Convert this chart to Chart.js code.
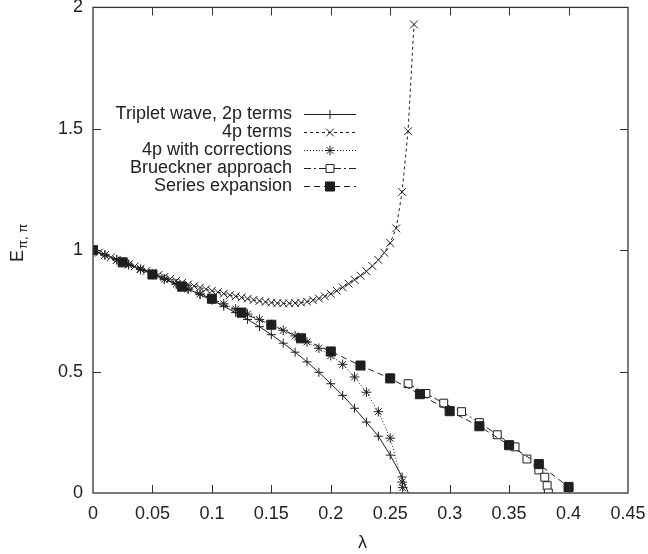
<!DOCTYPE html>
<html>
<head>
<meta charset="utf-8">
<script src="https://cdn.jsdelivr.net/npm/chart.js@4.4.1/dist/chart.umd.min.js"></script>
<style>
  html, body { margin: 0; padding: 0; background: #fff; }
  #wrap { width: 648px; height: 554px; }
</style>
</head>
<body>
<div id="wrap"><canvas id="chart" width="648" height="554"></canvas></div>
<script>
// axis ticks
var xTicks = [0, 0.05, 0.1, 0.15, 0.2, 0.25, 0.3, 0.35, 0.4, 0.45];
var xTickLabels = ['0', '0.05', '0.1', '0.15', '0.2', '0.25', '0.3', '0.35', '0.4', '0.45'];
var yTicks = [0, 0.5, 1, 1.5, 2];
var yTickLabels = ['0', '0.5', '1', '1.5', '2'];

// Triplet wave, 2p terms
var tripletLambda = [0, 0.01, 0.02, 0.03, 0.04, 0.05, 0.06, 0.07, 0.08, 0.09, 0.1, 0.11, 0.12, 0.13,
  0.14, 0.15, 0.16, 0.17, 0.18, 0.19, 0.2, 0.21, 0.22, 0.23, 0.24, 0.25, 0.26, 0.27];
var tripletE = [1.0, 0.981, 0.962, 0.943, 0.923, 0.903, 0.883, 0.862, 0.84, 0.817, 0.794, 0.769, 0.743, 0.715,
  0.685, 0.652, 0.617, 0.58, 0.54, 0.497, 0.45, 0.402, 0.349, 0.292, 0.234, 0.156, 0.066, -0.06];

// 4p terms
var fourPLambda = [0, 0.005, 0.01, 0.015, 0.02, 0.025, 0.03, 0.035, 0.04, 0.045, 0.05, 0.055, 0.06, 0.065,
  0.07, 0.075, 0.08, 0.085, 0.09, 0.095, 0.1, 0.105, 0.11, 0.115, 0.12, 0.125, 0.13, 0.135, 0.14, 0.145,
  0.15, 0.155, 0.16, 0.165, 0.17, 0.175, 0.18, 0.185, 0.19, 0.195, 0.2, 0.205, 0.21, 0.215, 0.22, 0.225,
  0.23, 0.235, 0.24, 0.245, 0.25, 0.255, 0.26, 0.265, 0.27];
var fourPE = [1.0, 0.99, 0.98, 0.97, 0.96, 0.951, 0.942, 0.933, 0.924, 0.915, 0.906, 0.898, 0.89, 0.882,
  0.874, 0.866, 0.859, 0.852, 0.846, 0.839, 0.833, 0.827, 0.821, 0.815, 0.81, 0.805, 0.8, 0.795, 0.791, 0.787,
  0.784, 0.782, 0.781, 0.781, 0.782, 0.784, 0.788, 0.794, 0.801, 0.81, 0.82, 0.833, 0.847, 0.862, 0.878, 0.895,
  0.913, 0.935, 0.96, 0.99, 1.03, 1.09, 1.24, 1.49, 1.93];

// 4p with corrections
var corrLambda = [0, 0.01, 0.02, 0.03, 0.04, 0.05, 0.06, 0.07, 0.08, 0.09, 0.1, 0.11, 0.12, 0.13,
  0.14, 0.15, 0.16, 0.17, 0.18, 0.19, 0.2, 0.21, 0.22, 0.23, 0.24, 0.25, 0.26, 0.2605, 0.263];
var corrE = [1.0, 0.98, 0.96, 0.94, 0.92, 0.9, 0.88, 0.86, 0.84, 0.82, 0.8, 0.779, 0.758, 0.737,
  0.715, 0.693, 0.67, 0.647, 0.622, 0.596, 0.566, 0.53, 0.478, 0.415, 0.335, 0.226, 0.045, 0.022, -0.05];

// Brueckner approach
var bruecknerLambda = [0.265, 0.28, 0.295, 0.31, 0.325, 0.34, 0.355, 0.365, 0.375, 0.38, 0.382, 0.383];
var bruecknerE = [0.45, 0.41, 0.37, 0.335, 0.29, 0.24, 0.19, 0.14, 0.095, 0.065, 0.03, 0.0];

// Series expansion
var seriesLambda = [0, 0.025, 0.05, 0.075, 0.1, 0.125, 0.15, 0.175, 0.2, 0.225, 0.25, 0.275, 0.3, 0.325,
  0.35, 0.375, 0.4];
var seriesE = [1.0, 0.95, 0.9, 0.85, 0.8, 0.743, 0.693, 0.637, 0.583, 0.525, 0.472, 0.407, 0.337, 0.275,
  0.197, 0.119, 0.025];

var seriesNames = ['Triplet wave, 2p terms', '4p terms', '4p with corrections', 'Brueckner approach', 'Series expansion'];

var INK = '#1e1e1e';
var FONT = '"Liberation Sans", Arial, Helvetica, sans-serif';

function pts(xs, ys) {
  return xs.map(function (x, i) { return { x: x, y: ys[i] }; });
}

var styles = [
  { dash: [], point: 'cross', radius: 4.5, fill: INK },
  { dash: [3, 3], point: 'crossRot', radius: 5.5, fill: INK },
  { dash: [1, 2], point: 'star', radius: 4.8, fill: INK },
  { dash: [7, 3, 2, 3], point: 'rect', radius: 5.6, fill: '#fff' },
  { dash: [6, 4], point: 'rect', radius: 6.4, fill: INK }
];
var seriesData = [
  pts(tripletLambda, tripletE),
  pts(fourPLambda, fourPE),
  pts(corrLambda, corrE),
  pts(bruecknerLambda, bruecknerE),
  pts(seriesLambda, seriesE)
];

var datasets = seriesData.map(function (d, i) {
  var s = styles[i];
  return {
    label: seriesNames[i],
    data: d,
    borderColor: INK,
    borderWidth: 1,
    borderDash: s.dash,
    pointStyle: s.point,
    pointRadius: s.radius,
    pointBorderWidth: 1,
    pointBorderColor: INK,
    pointBackgroundColor: s.fill,
    fill: false,
    tension: 0,
    order: 4 - i
  };
});

// frame, inward ticks, tick labels, axis titles, key
var decorPlugin = {
  id: 'decor',
  afterDraw: function (chart) {
    var ctx = chart.ctx;
    var a = chart.chartArea;
    var xs = chart.scales.x, ys = chart.scales.y;
    ctx.save();
    ctx.strokeStyle = '#333';
    ctx.lineWidth = 1.3;
    ctx.setLineDash([]);
    ctx.strokeRect(a.left, a.top, a.right - a.left, a.bottom - a.top);

    ctx.lineWidth = 1;
    ctx.fillStyle = '#222';
    ctx.font = '18px ' + FONT;
    ctx.textAlign = 'center';
    ctx.textBaseline = 'middle';
    xTicks.forEach(function (v, i) {
      var px = Math.round(xs.getPixelForValue(v)) + 0.5;
      if (i > 0 && i < xTicks.length - 1) {
        ctx.beginPath();
        ctx.moveTo(px, a.bottom); ctx.lineTo(px, a.bottom - 8);
        ctx.moveTo(px, a.top); ctx.lineTo(px, a.top + 8);
        ctx.stroke();
      }
      ctx.fillText(xTickLabels[i], xs.getPixelForValue(v), a.bottom + 21);
    });
    ctx.textAlign = 'right';
    yTicks.forEach(function (v, i) {
      var py = Math.round(ys.getPixelForValue(v)) + 0.5;
      if (i > 0 && i < yTicks.length - 1) {
        ctx.beginPath();
        ctx.moveTo(a.left, py); ctx.lineTo(a.left + 8, py);
        ctx.moveTo(a.right, py); ctx.lineTo(a.right - 8, py);
        ctx.stroke();
      }
      ctx.fillText(yTickLabels[i], a.left - 10, ys.getPixelForValue(v));
    });

    // x title
    ctx.textAlign = 'center';
    ctx.fillText('\u03bb', (a.left + a.right) / 2 + 2, a.bottom + 50);

    // y title E_{pi, pi}
    ctx.save();
    ctx.translate(18, 262);
    ctx.rotate(-Math.PI / 2);
    ctx.textAlign = 'left';
    ctx.textBaseline = 'middle';
    ctx.font = '18px ' + FONT;
    ctx.fillText('E', 0, 0);
    var ew = ctx.measureText('E').width;
    ctx.font = '13px ' + FONT;
    ctx.fillText('\u03c0, \u03c0', ew + 1, 5);
    ctx.restore();

    // key
    ctx.font = '18px ' + FONT;
    ctx.textAlign = 'right';
    ctx.textBaseline = 'middle';
    var textRight = 292, lineL = 304, lineR = 356, markX = 330;
    datasets.forEach(function (ds, i) {
      var y = 114 + i * 18;
      ctx.fillStyle = '#222';
      ctx.fillText(seriesNames[i], textRight, y);
      ctx.strokeStyle = INK;
      ctx.lineWidth = 1;
      ctx.setLineDash(ds.borderDash);
      ctx.beginPath();
      ctx.moveTo(lineL, y + 0.5); ctx.lineTo(lineR, y + 0.5);
      ctx.stroke();
      ctx.setLineDash([]);
      ctx.fillStyle = ds.pointBackgroundColor;
      Chart.helpers.drawPoint(ctx, {
        pointStyle: ds.pointStyle, radius: ds.pointRadius, rotation: 0, borderWidth: 1
      }, markX, y + 0.5);
    });
    ctx.restore();
  }
};

new Chart(document.getElementById('chart').getContext('2d'), {
  type: 'line',
  data: { datasets: datasets },
  options: {
    responsive: false,
    animation: false,
    devicePixelRatio: 1,
    layout: { padding: { left: 93, right: 20, top: 6, bottom: 61 } },
    plugins: { legend: { display: false }, tooltip: { enabled: false } },
    scales: {
      x: { type: 'linear', min: 0, max: 0.45, display: false },
      y: { type: 'linear', min: 0, max: 2, display: false }
    }
  },
  plugins: [decorPlugin]
});
</script>
</body>
</html>
